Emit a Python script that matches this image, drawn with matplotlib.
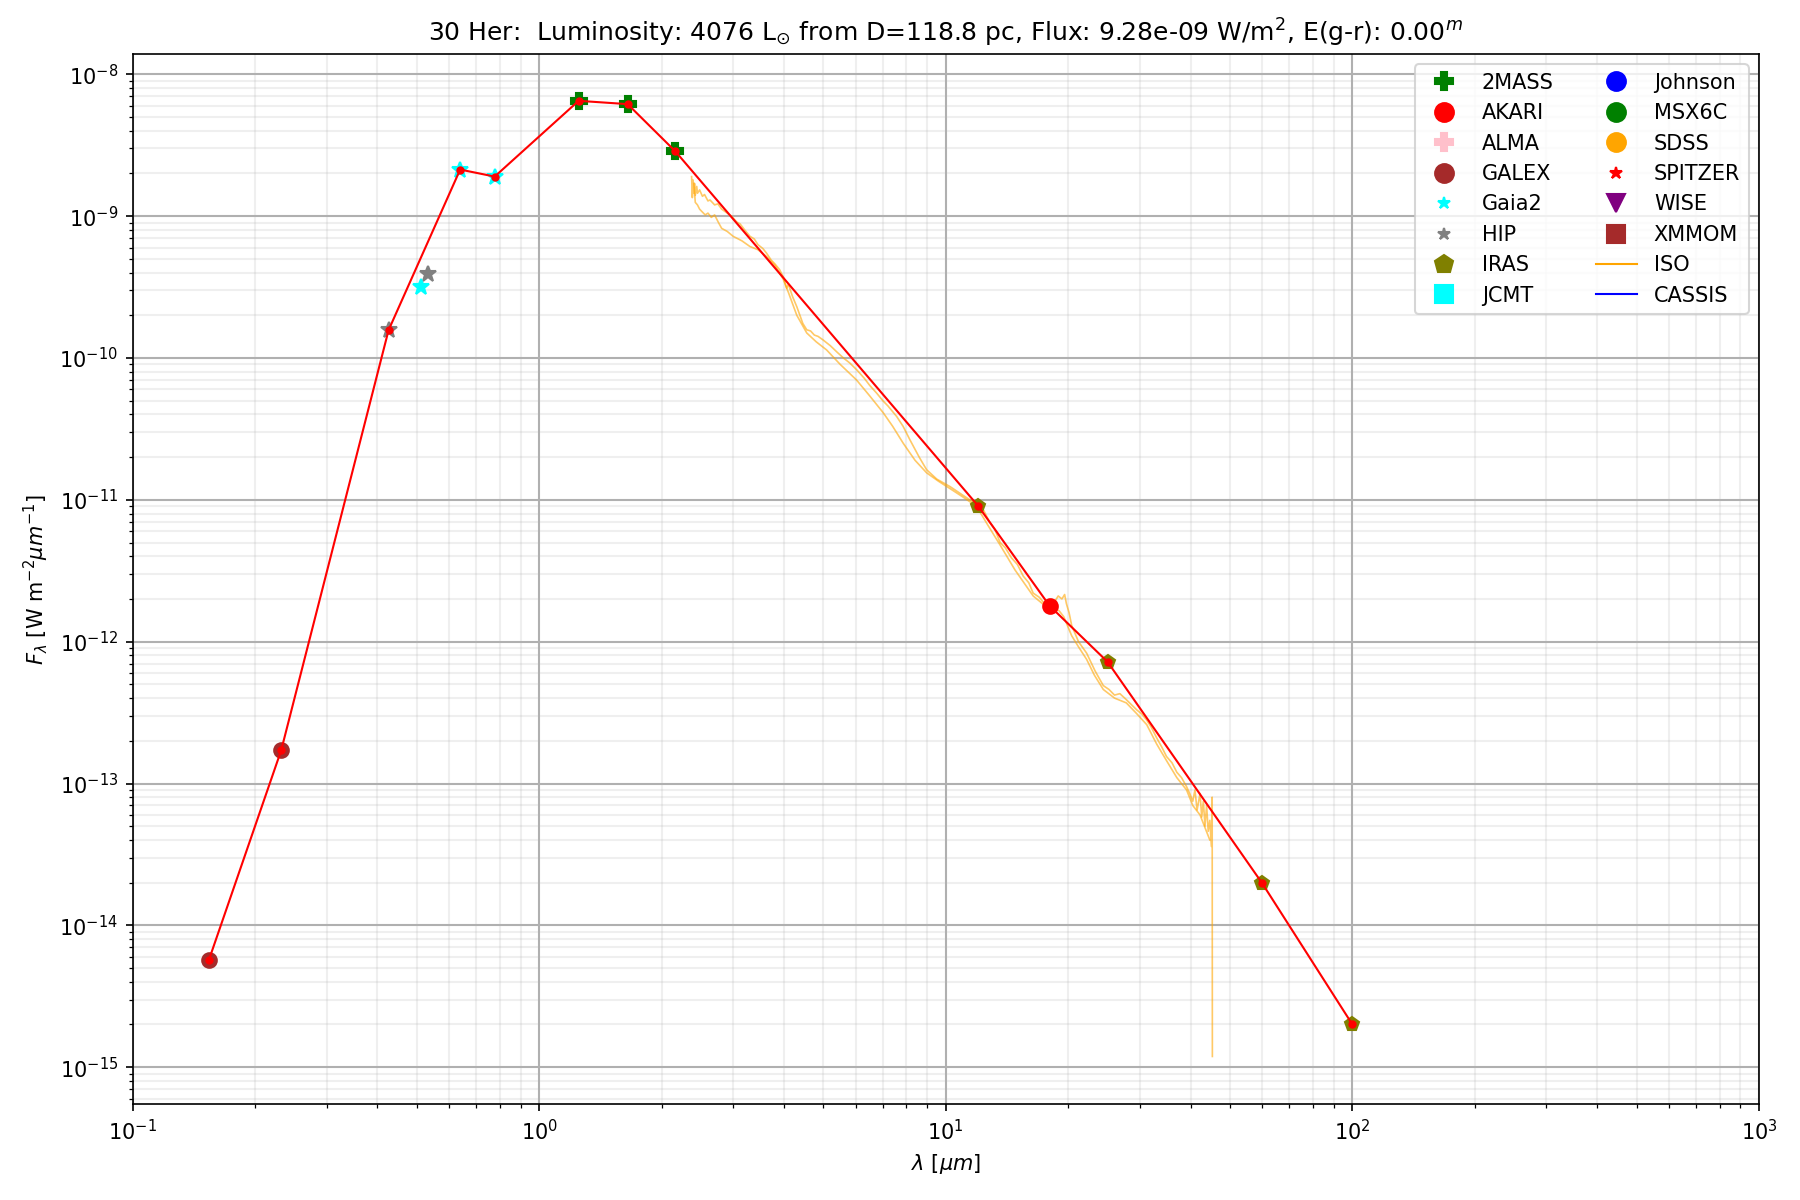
import matplotlib.pyplot as plt
from matplotlib.lines import Line2D

# photometry (wavelength in micron, flux in W m^-2 um^-1)
galex_wl = [0.154, 0.232]
galex_f = [5.7e-15, 1.72e-13]
hip_wl = [0.426, 0.532]
hip_f = [1.57e-10, 3.9e-10]
gaia_wl = [0.512, 0.639, 0.777]
gaia_f = [3.18e-10, 2.13e-9, 1.90e-9]
tmass_wl = [1.25, 1.65, 2.16]
tmass_f = [6.5e-9, 6.16e-9, 2.87e-9]
iras_wl = [12.0, 25.0, 60.0, 100.0]
iras_f = [9.08e-12, 7.2e-13, 1.98e-14, 2.0e-15]
akari_wl = [18.0]
akari_f = [1.79e-12]

# points joined by the red SED line
sed_wl = [0.154, 0.232, 0.426, 0.639, 0.777, 1.25, 1.65, 2.16, 12.0, 18.0, 25.0, 60.0, 100.0]
sed_f = [5.7e-15, 1.72e-13, 1.57e-10, 2.13e-9, 1.90e-9, 6.5e-9, 6.16e-9, 2.87e-9,
         9.08e-12, 1.79e-12, 7.2e-13, 1.98e-14, 2.0e-15]

# ISO spectra (two overlapping scans)
iso1_wl = [2.37, 2.38, 2.39, 2.40, 2.41, 2.42, 2.44, 2.45, 2.48, 2.52, 2.55, 2.60, 2.63, 2.70,
           2.75, 2.81, 2.90, 2.97, 3.06, 3.12, 3.20, 3.30, 3.38, 3.45, 3.55, 3.62, 3.72, 3.80,
           3.90, 3.98, 4.06, 4.10, 4.20, 4.30, 4.45, 4.55, 4.65, 4.75, 4.85, 4.99, 5.20, 5.40,
           5.60, 5.81, 6.05, 6.30, 6.50, 6.76, 7.00, 7.20, 7.57, 7.85, 8.16, 8.60, 8.97, 9.50,
           10.24, 11.0, 11.9, 12.4, 12.8, 13.2, 13.6, 14.0, 14.5, 15.0, 15.5, 16.0, 16.4, 17.0,
           17.5, 18.0, 18.5, 18.9, 19.3, 19.6, 19.8, 20.1, 20.4, 21.2, 22.2, 23.3, 24.4, 25.2,
           26.0, 26.8, 27.8, 28.6, 29.5, 30.3, 31.2, 32.0, 33.0, 34.0, 34.9, 36.0, 37.0, 38.0,
           39.1, 39.8, 40.5, 41.0, 41.5, 42.2, 42.6, 43.0, 43.4, 43.8, 44.2, 44.6, 45.0, 45.2,
           45.25]
iso1_f = [1.90e-9, 1.35e-9, 1.80e-9, 1.45e-9, 1.70e-9, 1.40e-9, 1.62e-9, 1.45e-9, 1.53e-9,
          1.38e-9, 1.42e-9, 1.28e-9, 1.30e-9, 1.20e-9, 1.22e-9, 1.12e-9, 1.05e-9, 1.00e-9,
          9.1e-10, 8.8e-10, 8.0e-10, 7.2e-10, 6.9e-10, 6.3e-10, 5.9e-10, 5.5e-10, 4.9e-10,
          4.6e-10, 4.2e-10, 3.75e-10, 3.1e-10, 3.3e-10, 2.7e-10, 2.3e-10, 1.75e-10, 1.58e-10,
          1.55e-10, 1.45e-10, 1.42e-10, 1.34e-10, 1.22e-10, 1.10e-10, 1.00e-10, 9.2e-11,
          8.2e-11, 7.2e-11, 6.4e-11, 5.65e-11, 5.0e-11, 4.6e-11, 3.87e-11, 3.3e-11, 2.65e-11,
          2.0e-11, 1.63e-11, 1.40e-11, 1.24e-11, 1.08e-11, 9.3e-12, 8.4e-12, 7.0e-12, 6.2e-12,
          5.0e-12, 4.6e-12, 3.9e-12, 3.5e-12, 2.9e-12, 2.6e-12, 2.2e-12, 2.05e-12, 1.85e-12,
          1.95e-12, 1.9e-12, 2.1e-12, 2.0e-12, 2.15e-12, 1.85e-12, 1.6e-12, 1.30e-12, 1.0e-12,
          8.3e-13, 6.2e-13, 4.9e-13, 4.6e-13, 4.2e-13, 4.3e-13, 3.9e-13, 3.6e-13, 3.3e-13,
          3.1e-13, 2.8e-13, 2.5e-13, 2.1e-13, 1.8e-13, 1.55e-13, 1.4e-13, 1.2e-13, 1.1e-13,
          9.5e-14, 8.5e-14, 7.5e-14, 9.0e-14, 6.5e-14, 8.5e-14, 5.8e-14, 7.5e-14, 5.0e-14,
          7.0e-14, 4.6e-14, 5.5e-14, 3.6e-14, 8.0e-14, 1.19e-15]
iso2_wl = [2.40, 2.42, 2.45, 2.48, 2.51, 2.56, 2.60, 2.65, 2.70, 2.76, 2.81, 2.90, 3.00, 3.15,
           3.30, 3.45, 3.62, 3.80, 3.98, 4.10, 4.30, 4.55, 4.80, 5.09, 5.50, 6.03, 6.50, 7.02,
           7.40, 7.86, 8.40, 8.97, 9.60, 10.24, 11.0, 11.9, 12.7, 13.6, 14.8, 16.4, 17.3, 18.3,
           19.0, 19.5, 20.4, 21.3, 22.2, 23.2, 24.4, 26.0, 27.8, 29.5, 31.2, 33.0, 34.9, 37.0,
           39.1, 40.5, 42.2, 43.5, 44.6]
iso2_f = [1.70e-9, 1.25e-9, 1.20e-9, 1.12e-9, 1.08e-9, 1.02e-9, 1.05e-9, 9.8e-10, 1.02e-9,
          9.0e-10, 8.2e-10, 7.8e-10, 7.2e-10, 6.7e-10, 6.1e-10, 5.8e-10, 5.2e-10, 4.5e-10,
          3.6e-10, 2.9e-10, 2.0e-10, 1.50e-10, 1.30e-10, 1.14e-10, 9.0e-11, 7.0e-11, 5.4e-11,
          4.1e-11, 3.3e-11, 2.5e-11, 1.9e-11, 1.55e-11, 1.35e-11, 1.2e-11, 1.05e-11, 9.0e-12,
          6.6e-12, 4.8e-12, 3.2e-12, 2.1e-12, 1.85e-12, 1.75e-12, 1.65e-12, 1.5e-12, 1.1e-12,
          9.0e-13, 7.5e-13, 5.8e-13, 4.6e-13, 4.0e-13, 3.7e-13, 3.1e-13, 2.6e-13, 1.9e-13,
          1.45e-13, 1.1e-13, 9.0e-14, 7.0e-14, 6.0e-14, 4.8e-14, 4.0e-14]

fig = plt.figure(figsize=(12, 8), dpi=150)
ax = fig.add_subplot(111)

ax.plot(iso1_wl, iso1_f, color='orange', lw=0.8, alpha=0.6)
ax.plot(iso2_wl, iso2_f, color='orange', lw=0.8, alpha=0.6)

ax.plot(galex_wl, galex_f, 'o', color='brown', ms=7, ls='none')
ax.plot(hip_wl, hip_f, '*', color='gray', ms=8, ls='none')
ax.plot(gaia_wl, gaia_f, '*', color='cyan', ms=8, ls='none')
ax.plot(tmass_wl, tmass_f, 'P', color='green', ms=8, ls='none')
ax.plot(iras_wl, iras_f, 'p', color='olive', ms=7, ls='none')
ax.plot(akari_wl, akari_f, 'o', color='red', ms=7, ls='none')

ax.plot(sed_wl, sed_f, 'r-', marker='o', ms=3, lw=1)

ax.set_xscale('log')
ax.set_yscale('log')
ax.set_xlim(0.1, 1000)
ax.set_ylim(5.48e-16, 1.39e-8)
ax.grid(which='major', color='#b0b0b0', lw=1)
ax.grid(which='minor', color='#b0b0b0', lw=1, alpha=0.2)
ax.set_axisbelow(True)

ax.set_xlabel(r'$\lambda$ [$\mu m$]')
ax.set_ylabel(r'$F_{\lambda}$ [W m$^{-2}\mu m^{-1}$]')
ax.set_title(r'30 Her:  Luminosity: 4076 L$_{\odot}$ from D=118.8 pc, Flux: 9.28e-09 W/m$^2$, E(g-r): 0.00$^m$')

handles = [
    Line2D([], [], marker='P', color='green', ls='none', ms=9, label='2MASS'),
    Line2D([], [], marker='o', color='red', ls='none', ms=9, label='AKARI'),
    Line2D([], [], marker='P', color='pink', ls='none', ms=9, label='ALMA'),
    Line2D([], [], marker='o', color='brown', ls='none', ms=9, label='GALEX'),
    Line2D([], [], marker='*', color='cyan', ls='none', ms=6, label='Gaia2'),
    Line2D([], [], marker='*', color='gray', ls='none', ms=6, label='HIP'),
    Line2D([], [], marker='p', color='olive', ls='none', ms=9, label='IRAS'),
    Line2D([], [], marker='s', color='cyan', ls='none', ms=9, label='JCMT'),
    Line2D([], [], marker='o', color='blue', ls='none', ms=9, label='Johnson'),
    Line2D([], [], marker='o', color='green', ls='none', ms=9, label='MSX6C'),
    Line2D([], [], marker='o', color='orange', ls='none', ms=9, label='SDSS'),
    Line2D([], [], marker='*', color='red', ls='none', ms=6, label='SPITZER'),
    Line2D([], [], marker='v', color='purple', ls='none', ms=9, label='WISE'),
    Line2D([], [], marker='s', color='brown', ls='none', ms=9, label='XMMOM'),
    Line2D([], [], color='orange', lw=1, label='ISO'),
    Line2D([], [], color='blue', lw=1, label='CASSIS'),
]
ax.legend(handles=handles, ncol=2, loc='upper right')

fig.subplots_adjust(left=0.0737, right=0.9772, top=0.955, bottom=0.0798)
fig.savefig('out.png', dpi=150)
